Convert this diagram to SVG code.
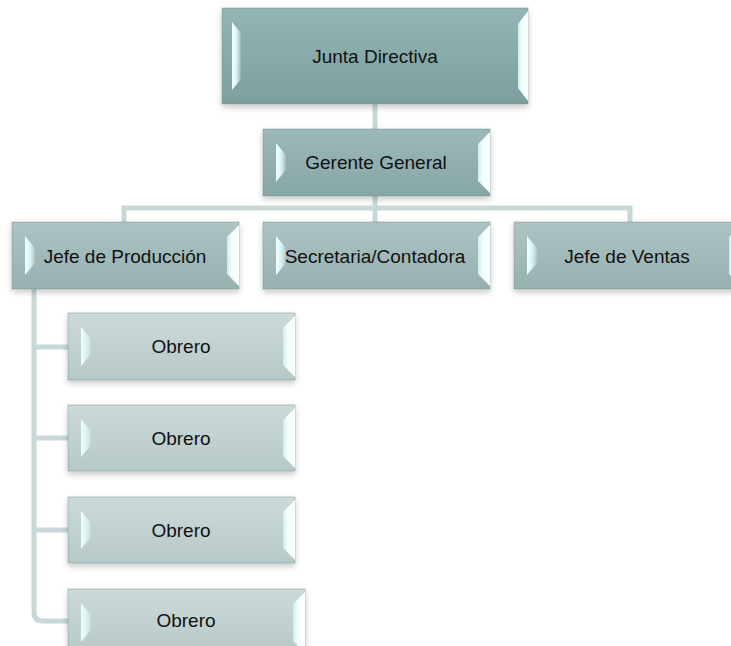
<svg xmlns="http://www.w3.org/2000/svg" width="731" height="646" viewBox="0 0 731 646">
<defs>
<linearGradient id="g1" x1="0" y1="0" x2="0" y2="1"><stop offset="0" stop-color="#93b5b4"/><stop offset="1" stop-color="#7d9f9e"/></linearGradient>
<linearGradient id="g2" x1="0" y1="0" x2="0" y2="1"><stop offset="0" stop-color="#9cb9b9"/><stop offset="1" stop-color="#86a5a5"/></linearGradient>
<linearGradient id="g3" x1="0" y1="0" x2="0" y2="1"><stop offset="0" stop-color="#adc3c3"/><stop offset="1" stop-color="#97b0b0"/></linearGradient>
<linearGradient id="g4" x1="0" y1="0" x2="0" y2="1"><stop offset="0" stop-color="#ccd9d9"/><stop offset="1" stop-color="#b7c8c8"/></linearGradient>
<linearGradient id="lf" x1="0" y1="0" x2="1" y2="0"><stop offset="0" stop-color="#f6ffff"/><stop offset="0.5" stop-color="#d6f4f4"/><stop offset="1" stop-color="#ffffff" stop-opacity="0.1"/></linearGradient>
<linearGradient id="rf" x1="0" y1="0" x2="1" y2="0"><stop offset="0" stop-color="#d0ecec"/><stop offset="0.4" stop-color="#f2ffff"/><stop offset="1" stop-color="#ffffff"/></linearGradient>
<filter id="sh" x="-10%" y="-20%" width="120%" height="150%"><feDropShadow dx="0" dy="3" stdDeviation="3" flood-color="#000" flood-opacity="0.22"/></filter>
</defs>
<style>
.box{stroke:#6f8c8c;stroke-opacity:0.45;stroke-width:1;filter:url(#sh)}
.lf{fill:url(#lf)}
.rf{fill:url(#rf)}
.t{font-family:"Liberation Sans",Arial,sans-serif;font-size:19px;fill:#111;text-anchor:middle}
.c{fill:none;stroke:#c8d8d8;stroke-width:5}
</style>
<rect width="731" height="646" fill="#fff"/>
<g id="connectors">
<path class="c" d="M375,104 V129"/>
<path class="c" d="M124,222 V208 H630 V222"/>
<path class="c" d="M375,196 V222"/>
<path class="c" d="M34,289 V612 Q34,621 43,621 H68"/>
<path class="c" d="M34,347 H68"/>
<path class="c" d="M34,438 H68"/>
<path class="c" d="M34,530 H68"/>
</g>
<g id="junta">
<rect class="box" x="222" y="8" width="306" height="96" fill="url(#g1)"/>
<polygon class="lf" points="232,22 241,33 241,79 232,90"/>
<polygon class="rf" points="528,11 518,24 518,88 528,101"/>
<text class="t" x="375" y="63">Junta Directiva</text>
</g>
<g id="gerente">
<rect class="box" x="263" y="129" width="227" height="67" fill="url(#g2)"/>
<polygon class="lf" points="276,143 286,155 286,170 276,182"/>
<polygon class="rf" points="490,132 478,144 478,181 490,193"/>
<text class="t" x="376" y="169">Gerente General</text>
</g>
<g id="jefe-produccion">
<rect class="box" x="12" y="222" width="227" height="67" fill="url(#g3)"/>
<polygon class="lf" points="25,236 35,248 35,263 25,275"/>
<polygon class="rf" points="239,225 227,237 227,274 239,286"/>
<text class="t" x="125" y="263">Jefe de Producción</text>
</g>
<g id="secretaria">
<rect class="box" x="263" y="222" width="227" height="67" fill="url(#g3)"/>
<polygon class="lf" points="276,236 286,248 286,263 276,275"/>
<polygon class="rf" points="490,225 478,237 478,274 490,286"/>
<text class="t" x="375" y="263">Secretaria/Contadora</text>
</g>
<g id="jefe-ventas">
<rect class="box" x="514" y="222" width="227" height="67" fill="url(#g3)"/>
<polygon class="lf" points="527,236 537,248 537,263 527,275"/>
<polygon class="rf" points="741,225 729,237 729,274 741,286"/>
<text class="t" x="627" y="263">Jefe de Ventas</text>
</g>
<g id="obrero1">
<rect class="box" x="68" y="313" width="227" height="67" fill="url(#g4)"/>
<polygon class="lf" points="81,327 91,339 91,354 81,366"/>
<polygon class="rf" points="295,316 283,328 283,365 295,377"/>
<text class="t" x="181" y="353">Obrero</text>
</g>
<g id="obrero2">
<rect class="box" x="68" y="405" width="227" height="66" fill="url(#g4)"/>
<polygon class="lf" points="81,419 91,431 91,445 81,457"/>
<polygon class="rf" points="295,408 283,420 283,456 295,468"/>
<text class="t" x="181" y="445">Obrero</text>
</g>
<g id="obrero3">
<rect class="box" x="68" y="497" width="227" height="66" fill="url(#g4)"/>
<polygon class="lf" points="81,511 91,523 91,537 81,549"/>
<polygon class="rf" points="295,500 283,512 283,548 295,560"/>
<text class="t" x="181" y="537">Obrero</text>
</g>
<g id="obrero4">
<rect class="box" x="68" y="589" width="237" height="67" fill="url(#g4)"/>
<polygon class="lf" points="81,603 91,615 91,630 81,642"/>
<polygon class="rf" points="305,592 293,604 293,641 305,653"/>
<text class="t" x="186" y="627">Obrero</text>
</g>
</svg>
